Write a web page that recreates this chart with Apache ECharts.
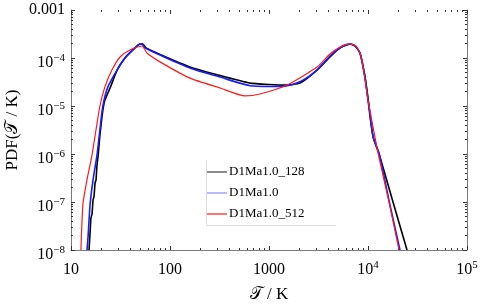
<!DOCTYPE html>
<html><head><meta charset="utf-8">
<script src="https://cdn.jsdelivr.net/npm/echarts@6/dist/echarts.min.js"></script>
<style>html,body{margin:0;padding:0;background:#fff}#c{width:480px;height:306px}</style>
</head><body><div id="c"></div>
<script>
// Series: D1Ma1.0_128 (black)
const T_128 = [15.2,15.6,15.9,16.3,16.7,17.1,17.5,17.9,18.3,18.7,19.2,19.6,21.0,22.0,24.8,29.2,35.1,44.3,49.7,53.3,57.3,79.3,159,320,643,1023,1451,2056,3055,4131,5212,6577,7390,8299,9333,10000,11250,13220,17890,24770];
const P_128 = [1e-8,2.37e-8,4.6e-8,5.6e-8,1.1e-7,1.33e-7,2.5e-7,2.9e-7,5.9e-7,8.3e-7,1.54e-6,2.5e-6,8.3e-6,1.33e-5,2.37e-5,5.6e-5,1e-4,1.62e-4,1.96e-4,1.96e-4,1.62e-4,1.18e-4,6.5e-5,4.3e-5,3.0e-5,2.8e-5,2.72e-5,3.0e-5,5.6e-5,1.05e-4,1.62e-4,1.96e-4,1.78e-4,1.27e-4,4.0e-5,1.47e-5,2.3e-6,8.7e-7,1e-7,1e-8];
// Series: D1Ma1.0 (blue)
const T_ref = [14.5,14.9,15.6,16.7,18.3,19.6,21.0,23.6,29.2,35.1,44.3,49.7,52.1,55.8,79.3,159,320,643,1023,1451,2056,3055,4131,5212,6577,7390,8299,9333,10000,11250,12900,16670,21040];
const P_ref = [1e-8,2.0e-8,9.1e-8,2.9e-7,9.5e-7,3.2e-6,1e-5,2.5e-5,5.6e-5,1e-4,1.62e-4,1.96e-4,1.96e-4,1.62e-4,1.15e-4,6.2e-5,4.0e-5,2.65e-5,2.55e-5,2.6e-5,3.2e-5,5.6e-5,1.1e-4,1.62e-4,1.96e-4,1.78e-4,1.27e-4,4.0e-5,1.33e-5,2.26e-6,1.05e-6,8.7e-8,1e-8];
// Series: D1Ma1.0_512 (red)
const T_512 = [12.6,13.2,14.5,16.3,17.9,19.6,22.0,25.9,31.3,39.4,52.1,58.6,79.3,159,320,572,811,1521,3055,4131,5212,6427,7570,8490,9333,10000,12630,16290,20560];
const P_512 = [1e-8,9.1e-8,2.9e-7,9.5e-7,3.2e-6,1e-5,2.5e-5,5.6e-5,1.05e-4,1.47e-4,1.78e-4,1.27e-4,8.3e-5,3.8e-5,2.37e-5,1.62e-5,1.78e-5,2.74e-5,6.5e-5,1.21e-4,1.70e-4,1.96e-4,1.78e-4,1.1e-4,3.48e-5,1.33e-5,1.05e-6,1e-7,1e-8];

const seriesNames = ['D1Ma1.0_128','D1Ma1.0','D1Ma1.0_512'];
const lineColors = ['#000000','#1a1aff','#ff1a1a'];
const legendColors = ['#8c8c8c','#8a8aff','#ff7373'];
const xMajor = [10,100,1000,1e4,1e5];
const yMajorPow = [1e-8,1e-7,1e-6,1e-5,1e-4];
const yTop = [1e-3];
const xLabels = {10:'{b|10}',100:'{b|100}',1000:'{b|1000}',10000:'{b|10}{s|4}',100000:'{b|10}{s|5}'};
const yLabels = ['{b|10}{s|\u22128}','{b|10}{s|\u22127}','{b|10}{s|\u22126}','{b|10}{s|\u22125}','{b|10}{s|\u22124}','0.001'];

function minorsOf(majors){const out=[];for(let i=0;i<majors.length-1;i++){for(let k=2;k<=9;k++)out.push(+(majors[i]*k).toPrecision(6));}return out;}
const yMajor = yMajorPow.concat(yTop);
const xMinor = minorsOf(xMajor), yMinor = minorsOf(yMajor);
const zip=(a,b)=>a.map((v,i)=>[v,b[i]]);

const FONT='"Liberation Serif","DejaVu Serif",serif';
const AX='#7a7a7a';
const rich={
  b:{fontSize:16,fontFamily:FONT,color:'#000',lineHeight:18,verticalAlign:'bottom'},
  s:{fontSize:11,fontFamily:FONT,color:'#000',lineHeight:18,verticalAlign:'top'}
};

function xAx(pos,major,showLine,withLabel){
  return {type:'log',logBase:10,min:10,max:1e5,position:pos,
    axisLine:{show:showLine,lineStyle:{color:AX,width:1}},
    axisTick:{show:true,inside:true,length:major?4:2,customValues:major?xMajor:xMinor,lineStyle:{color:'#333'}},
    axisLabel:{show:withLabel,margin:10,fontFamily:FONT,fontSize:16,color:'#000',customValues:xMajor,
      formatter:v=>{const k=Math.round(v);return xLabels[k]||'';},rich:rich},
    splitLine:{show:false},minorTick:{show:false},
    name:withLabel?'\uD835\uDCAF / K':'',nameLocation:'middle',nameGap:36,
    nameTextStyle:{fontFamily:FONT,fontSize:17,color:'#000'}};
}
function yAx(pos,major,showLine,labelVals,pad){
  const withLabel=!!labelVals;
  return {type:'log',logBase:10,min:1e-8,max:1e-3,position:pos,
    axisLine:{show:showLine,lineStyle:{color:AX,width:1}},
    axisTick:{show:true,inside:true,length:major?4:2,customValues:major?yMajor:yMinor,lineStyle:{color:'#333'}},
    axisLabel:{show:withLabel,margin:6,fontFamily:FONT,fontSize:16,color:'#000',customValues:labelVals||yMajor,padding:pad||0,
      formatter:v=>{const e=Math.round(Math.log10(v));return yLabels[e+8];},rich:rich},
    splitLine:{show:false},minorTick:{show:false},
    name:(pos==='left'&&major)?'PDF(\uD835\uDCAF / K)':'',nameLocation:'middle',nameGap:50,
    nameTextStyle:{fontFamily:FONT,fontSize:17,color:'#000'}};
}

const legendGraphics=[];
seriesNames.forEach((n,i)=>{
  const y=172+i*21;
  legendGraphics.push({type:'line',shape:{x1:207,y1:y,x2:227,y2:y},style:{stroke:legendColors[i],lineWidth:i===1?1.2:2},silent:true});
  legendGraphics.push({type:'text',x:229,y:y,style:{text:n,font:'13px '+FONT,fill:'#000',textVerticalAlign:'middle',verticalAlign:'middle'},silent:true});
});

const chart=echarts.init(document.getElementById('c'),null,{renderer:'canvas'});
chart.setOption({
  animation:false,
  backgroundColor:'#fff',
  grid:{left:71,right:13,top:10,bottom:56,containLabel:false,outerBoundsMode:'none'},
  xAxis:[xAx('bottom',true,true,true),xAx('bottom',false,false,false),xAx('top',true,false,false),xAx('top',false,false,false)],
  yAxis:[yAx('left',true,true,yMajorPow,[8,0,0,0]),yAx('left',false,false,yTop,0),yAx('right',true,true,null),yAx('right',false,false,null)],
  graphic:[
    {type:'line',shape:{x1:206.5,y1:160,x2:206.5,y2:225.5},style:{stroke:'#dddddd',lineWidth:1},silent:true},
    {type:'line',shape:{x1:206.5,y1:225.5,x2:336,y2:225.5},style:{stroke:'#dddddd',lineWidth:1},silent:true}
  ].concat(legendGraphics),
  series:seriesNames.map((n,i)=>({
    name:n,type:'line',data:[zip(T_128,P_128),zip(T_ref,P_ref),zip(T_512,P_512)][i],
    showSymbol:false,symbol:'none',smooth:[0.15,0.25,0.2][i],
    lineStyle:{color:lineColors[i],width:[1.6,1.6,1.2][i]},itemStyle:{color:lineColors[i]}
  }))
});
</script></body></html>
